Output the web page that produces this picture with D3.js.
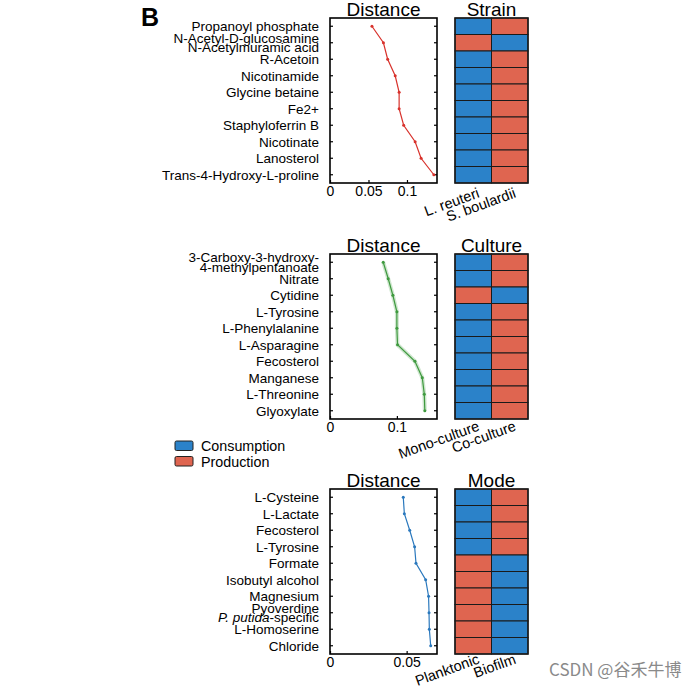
<!DOCTYPE html>
<html><head><meta charset="utf-8">
<script src="https://cdn.jsdelivr.net/npm/d3@7"></script>
<style>
body{margin:0;background:#fff;}
svg{display:block;font-family:"Liberation Sans",Arial,sans-serif;}
</style></head><body>
<svg id="c" width="700" height="690"></svg>
<script>
// ---------- data ----------
const strainRows = ["Propanoyl phosphate","N-Acetyl-D-glucosamine|N-Acetylmuramic acid","R-Acetoin","Nicotinamide","Glycine betaine","Fe2+","Staphyloferrin B","Nicotinate","Lanosterol","Trans-4-Hydroxy-L-proline"];
const strainDist = [0.0545,0.0694,0.0749,0.0847,0.0898,0.0898,0.0957,0.1106,0.1183,0.1349];
const strainCols = ["L. reuteri","S. boulardii"];
const strainCol1 = ["C","P","C","C","C","C","C","C","C","C"];
const strainCol2 = ["P","C","P","P","P","P","P","P","P","P"];
const strainTicks = [0,0.05,0.1];

const cultureRows = ["3-Carboxy-3-hydroxy-|4-methylpentanoate","Nitrate","Cytidine","L-Tyrosine","L-Phenylalanine","L-Asparagine","Fecosterol","Manganese","L-Threonine","Glyoxylate"];
const cultureDist = [0.0796,0.0871,0.094,0.1,0.1,0.101,0.127,0.138,0.141,0.1418];
const cultureCols = ["Mono-culture","Co-culture"];
const cultureCol1 = ["C","C","P","C","C","C","C","C","C","C"];
const cultureCol2 = ["P","P","C","P","P","P","P","P","P","P"];
const cultureTicks = [0,0.1];

const modeRows = ["L-Cysteine","L-Lactate","Fecosterol","L-Tyrosine","Formate","Isobutyl alcohol","Magnesium","Pyoverdine|P. putida-specific","L-Homoserine","Chloride"];
const modeDist = [0.0478,0.0485,0.052,0.0552,0.0561,0.0624,0.0643,0.0646,0.0648,0.0657];
const modeCols = ["Planktonic","Biofilm"];
const modeCol1 = ["C","C","C","C","P","P","P","P","P","P"];
const modeCol2 = ["P","P","P","P","C","C","C","C","C","C"];
const modeTicks = [0,0.05];

const legendKeys = ["C","P"];
const legendLabels = ["Consumption","Production"];

// ---------- styles ----------
const fill = {C:"#2b82c9", P:"#df6550"};
const svg = d3.select("#c");

function panel(cfg){
  const {top, rows, dist, xmax, ticks, color, band, heatTitle, cols, c1, c2, labOff} = cfg;
  const L=330, R=437, H=165, HL=455, HR=528;
  const y = d3.scaleBand().domain(d3.range(rows.length)).range([top, top+H]);
  const x = d3.scaleLinear().domain([0,xmax]).range([L,R]);
  const g = svg.append("g");
  // titles
  g.append("text").attr("x",(L+R)/2).attr("y",top-2.5).attr("text-anchor","middle")
    .attr("font-size",19).text("Distance");
  g.append("text").attr("x",(HL+HR)/2).attr("y",top-2.5).attr("text-anchor","middle")
    .attr("font-size",19).text(heatTitle);
  // row labels
  rows.forEach((r,i)=>{
    const cy = y(i)+y.bandwidth()/2;
    const parts = r.split("|");
    if(parts.length===1){
      g.append("text").attr("x",L-11).attr("y",cy).attr("dy","0.36em")
        .attr("text-anchor","end").attr("font-size",13.5).text(r);
    } else {
      parts.forEach((p,k)=>{
        const t = g.append("text").attr("x",L-11).attr("y",cy+(k===0?-5:4.5)).attr("dy","0.36em")
          .attr("text-anchor","end").attr("font-size",13.5);
        if(p.startsWith("P. putida")){
          t.append("tspan").attr("font-style","italic").text("P. putida");
          t.append("tspan").text(p.slice(9));
        } else t.text(p);
      });
    }
  });
  // y ticks (inward, both sides)
  const yt = g.append("g");
  rows.forEach((r,i)=>{
    const cy = y(i)+y.bandwidth()/2;
    yt.append("line").attr("x1",L).attr("x2",L+3).attr("y1",cy).attr("y2",cy).attr("stroke","#000").attr("stroke-width",1.2);
    yt.append("line").attr("x1",R-3).attr("x2",R).attr("y1",cy).attr("y2",cy).attr("stroke","#000").attr("stroke-width",1.2);
  });
  // x axis
  const xa = d3.axisBottom(x).tickValues(ticks).tickSizeInner(-3).tickSizeOuter(0)
    .tickFormat(d=> d===0 ? "0" : String(d));
  const ax = g.append("g").attr("transform",`translate(0,${top+H})`).call(xa);
  ax.select(".domain").remove();
  ax.selectAll("line").attr("stroke","#000").attr("stroke-width",1.2);
  ax.selectAll("text").attr("font-size",14).attr("font-family","Liberation Sans, Arial, sans-serif").attr("fill","#000").attr("dy","0.71em").attr("y",3);
  // line
  const line = d3.line().x(d=>x(d)).y((d,i)=>y(i)+y.bandwidth()/2);
  if(band){
    g.append("path").datum(dist).attr("d",line).attr("fill","none").attr("stroke",color)
      .attr("stroke-opacity",0.25).attr("stroke-width",4);
  }
  g.append("path").datum(dist).attr("d",line).attr("fill","none").attr("stroke",color).attr("stroke-width",1.2);
  g.selectAll(null).data(dist).enter().append("circle")
    .attr("cx",d=>x(d)).attr("cy",(d,i)=>y(i)+y.bandwidth()/2).attr("r",1.5).attr("fill",color);
  // box
  g.append("rect").attr("x",L).attr("y",top).attr("width",R-L).attr("height",H)
    .attr("fill","none").attr("stroke","#000").attr("stroke-width",1.6);
  // heatmap
  const hx = d3.scaleBand().domain([0,1]).range([HL,HR]);
  [c1,c2].forEach((col,j)=>{
    col.forEach((v,i)=>{
      g.append("rect").attr("x",hx(j)).attr("y",y(i)).attr("width",hx.bandwidth()).attr("height",y.bandwidth())
        .attr("fill",fill[v]).attr("stroke","#1a1a1a").attr("stroke-width",1);
    });
  });
  g.append("rect").attr("x",HL).attr("y",top).attr("width",HR-HL).attr("height",H)
    .attr("fill","none").attr("stroke","#1a1a1a").attr("stroke-width",1.5);
  // column labels
  cols.forEach((c,j)=>{
    const cx = hx(j)+hx.bandwidth()/2;
    g.append("text").attr("text-anchor","end").attr("font-size",14.5)
      .attr("transform",`translate(${cx+7},${top+H+labOff}) rotate(-20)`).text(c);
  });
}

panel({top:18, rows:strainRows, dist:strainDist, xmax:0.139, ticks:strainTicks, color:"#d8322c", band:false,
  heatTitle:"Strain", cols:strainCols, c1:strainCol1, c2:strainCol2, labOff:14});
panel({top:254, rows:cultureRows, dist:cultureDist, xmax:0.16, ticks:cultureTicks, color:"#3f9a3f", band:true,
  heatTitle:"Culture", cols:cultureCols, c1:cultureCol1, c2:cultureCol2, labOff:11});
panel({top:489, rows:modeRows, dist:modeDist, xmax:0.0698, ticks:modeTicks, color:"#2a78bd", band:false,
  heatTitle:"Mode", cols:modeCols, c1:modeCol1, c2:modeCol2, labOff:9});

// panel letter
svg.append("text").attr("x",141).attr("y",26).attr("font-size",25).attr("font-weight","bold").text("B");

// legend
legendKeys.forEach((k,i)=>{
  svg.append("rect").attr("x",175).attr("y",441+i*15.5).attr("width",18).attr("height",9.5).attr("rx",1.5)
    .attr("fill",fill[k]).attr("stroke","#222").attr("stroke-width",1);
  svg.append("text").attr("x",201).attr("y",446+i*15.5).attr("dy","0.36em").attr("font-size",14.3).text(legendLabels[i]);
});

// watermark
svg.append("text").attr("x",549).attr("y",676).attr("font-size",17).attr("fill","#8a8a8a")
  .attr("font-family","'Noto Sans CJK SC',sans-serif").text("CSDN @谷禾牛博");
</script>
</body></html>
